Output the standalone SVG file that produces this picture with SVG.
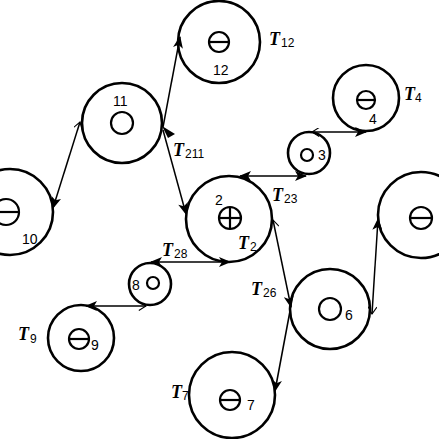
<svg xmlns="http://www.w3.org/2000/svg" width="439" height="439" viewBox="0 0 439 439">
<defs>
<style>
.n{fill:#fff;stroke:#000;stroke-width:2.6}
.s{fill:none;stroke:#000;stroke-width:2.2}
.c{stroke:#000;stroke-width:1.5;fill:none}
.T{font-family:"Liberation Serif",serif;font-weight:bold;font-style:italic;font-size:18px}
.sub{font-family:"Liberation Sans",sans-serif;font-size:12px}
.lb{font-family:"Liberation Sans",sans-serif;font-size:14px}
</style>
<marker id="fa" viewBox="0 0 12 10" refX="11" refY="5" markerWidth="13" markerHeight="10" markerUnits="userSpaceOnUse" orient="auto"><path d="M0,0 L12,5 L0,10 L3,5 Z" fill="#000"/></marker>
<marker id="oa" viewBox="0 0 10 10" refX="1" refY="5" markerWidth="9" markerHeight="9" markerUnits="userSpaceOnUse" orient="auto"><path d="M9,0 L1,5 L9,10" fill="none" stroke="#000" stroke-width="1.2"/></marker>
<marker id="fs" viewBox="0 0 12 10" refX="1" refY="5" markerWidth="13" markerHeight="10" markerUnits="userSpaceOnUse" orient="auto"><path d="M12,0 L0,5 L12,10 L9,5 Z" fill="#000"/></marker>
</defs>
<g id="n12"><circle class="n" cx="219" cy="42" r="41"/><circle class="s" cx="219" cy="42" r="10"/><line class="s" x1="209" y1="42" x2="229" y2="42"/><text class="lb" x="213" y="75">12</text><text class="T" x="269" y="45">T</text><text class="sub" x="281" y="47">12</text></g>
<g id="n11"><circle class="n" cx="122" cy="123" r="40"/><circle class="s" cx="122" cy="123" r="11"/><text class="lb" x="113" y="106">11</text></g>
<g id="n4"><circle class="n" cx="366" cy="98" r="33"/><circle class="s" cx="366" cy="100" r="9"/><line class="s" x1="357" y1="100" x2="375" y2="100"/><text class="lb" x="369" y="124">4</text><text class="T" x="404" y="100">T</text><text class="sub" x="415" y="102">4</text></g>
<g id="n3"><circle class="n" cx="309" cy="153" r="21"/><circle class="s" cx="307" cy="155" r="6"/><text class="lb" x="318" y="160">3</text></g>
<g id="n10"><circle class="n" cx="10" cy="212" r="43"/><circle class="s" cx="6" cy="212" r="13"/><line class="s" x1="-7" y1="212" x2="19" y2="212"/><text class="lb" x="22" y="244">10</text></g>
<g id="n2"><circle class="n" cx="229" cy="219" r="43"/><circle class="s" cx="230" cy="218" r="11"/><line class="s" x1="219" y1="218" x2="241" y2="218"/><line class="s" x1="230" y1="207" x2="230" y2="229"/><text class="lb" x="215" y="205">2</text><text class="T" x="238" y="249">T</text><text class="sub" x="250" y="251">2</text></g>
<g id="n13"><circle class="n" cx="421" cy="215" r="43"/><circle class="s" cx="421" cy="218" r="11"/><line class="s" x1="410" y1="218" x2="432" y2="218"/></g>
<g id="n8"><circle class="n" cx="150" cy="284" r="21"/><circle class="s" cx="153" cy="283" r="6"/><text class="lb" x="132" y="290">8</text></g>
<g id="n9"><circle class="n" cx="81" cy="338" r="33"/><circle class="s" cx="79" cy="339" r="10"/><line class="s" x1="69" y1="339" x2="89" y2="339"/><text class="lb" x="91" y="350">9</text><text class="T" x="18" y="340">T</text><text class="sub" x="30" y="343">9</text></g>
<g id="n6"><circle class="n" cx="330" cy="309" r="40"/><circle class="s" cx="330" cy="309" r="11"/><text class="lb" x="345" y="320">6</text></g>
<g id="n7"><circle class="n" cx="232" cy="395" r="43"/><circle class="s" cx="230" cy="400" r="10"/><line class="s" x1="220" y1="400" x2="240" y2="400"/><text class="lb" x="247" y="410">7</text><text class="T" x="171" y="398">T</text><text class="sub" x="182" y="400">7</text></g>
<g id="connectors">
<line class="c" x1="80" y1="122" x2="53" y2="208" marker-start="url(#oa)" marker-end="url(#fa)"/>
<line class="c" x1="163" y1="127" x2="180" y2="37" marker-end="url(#fa)"/>
<line class="c" x1="163" y1="130" x2="186" y2="214" marker-end="url(#fa)"/>
<path d="M162,126 L175,134 L168,138 Z" fill="#000"/>
<line class="c" x1="240" y1="176" x2="306" y2="176" marker-start="url(#fs)" marker-end="url(#fa)"/>
<line class="c" x1="312" y1="132" x2="366" y2="132" marker-start="url(#oa)" marker-end="url(#fa)"/>
<line class="c" x1="151" y1="262" x2="230" y2="262" marker-start="url(#fs)" marker-end="url(#fa)"/>
<line class="c" x1="146" y1="306" x2="86" y2="306" marker-start="url(#oa)" marker-end="url(#fa)"/>
<line class="c" x1="273" y1="220" x2="291" y2="307" marker-start="url(#oa)" marker-end="url(#fa)"/>
<line class="c" x1="290" y1="311" x2="275" y2="391" marker-end="url(#fa)"/>
<line class="c" x1="372" y1="314" x2="378" y2="219" marker-start="url(#oa)" marker-end="url(#fa)"/>
<text class="T" x="173" y="156">T</text><text class="sub" x="185" y="158">211</text>
<text class="T" x="272" y="201">T</text><text class="sub" x="284" y="203">23</text>
<text class="T" x="162" y="256">T</text><text class="sub" x="174" y="258">28</text>
<text class="T" x="251" y="295">T</text><text class="sub" x="263" y="297">26</text>
</g>
</svg>
